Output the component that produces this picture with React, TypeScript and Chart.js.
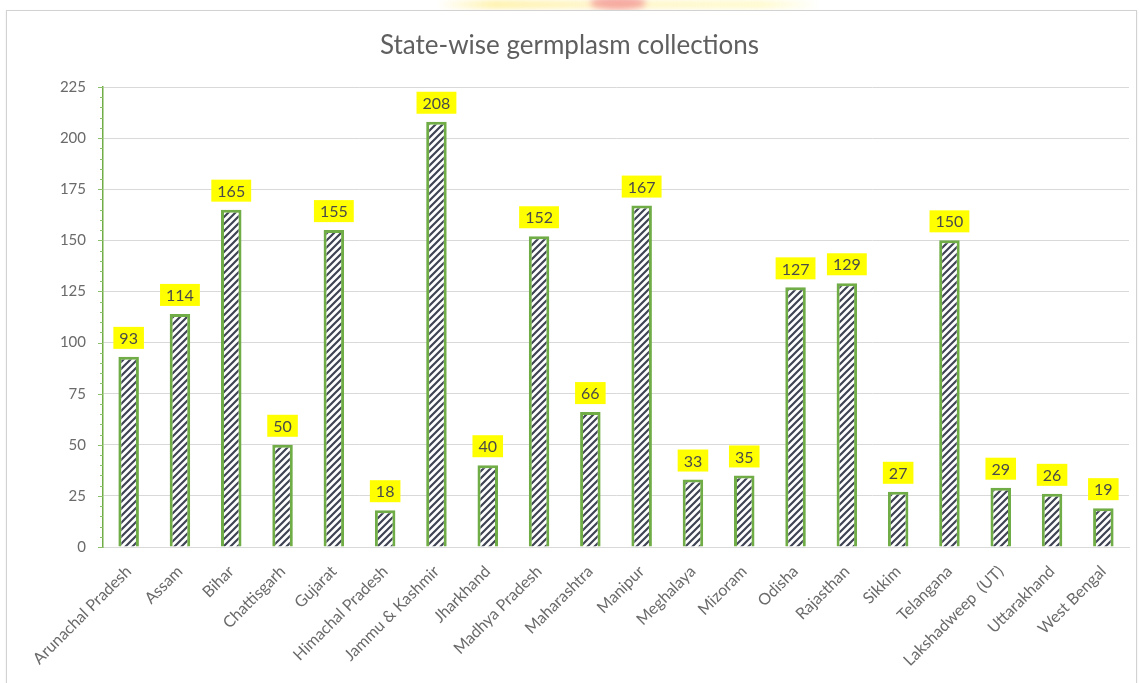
import React, { useEffect, useRef } from 'react';
import { Chart, registerables } from 'chart.js';

Chart.register(...registerables);

const states = [
  'Arunachal Pradesh', 'Assam', 'Bihar', 'Chattisgarh', 'Gujarat', 'Himachal Pradesh',
  'Jammu & Kashmir', 'Jharkhand', 'Madhya Pradesh', 'Maharashtra', 'Manipur', 'Meghalaya',
  'Mizoram', 'Odisha', 'Rajasthan', 'Sikkim', 'Telangana', 'Lakshadweep  (UT)', 'Uttarakhand',
  'West Bengal',
];
const collections = [93, 114, 165, 50, 155, 18, 208, 40, 152, 66, 167, 33, 35, 127, 129, 27, 150, 29, 26, 19];
const yMax = 225;
const yStep = 25;
const minorStep = 5;

const FONT = 'Lato, "DejaVu Sans", sans-serif';

function makeHatch(): CanvasPattern | string {
  const n = 7;
  const tile = document.createElement('canvas');
  tile.width = n;
  tile.height = n;
  const c = tile.getContext('2d');
  if (!c) return '#ffffff';
  c.fillStyle = '#ffffff';
  c.fillRect(0, 0, n, n);
  c.strokeStyle = '#3f4454';
  c.lineWidth = 2.2;
  c.beginPath();
  c.moveTo(-1, n + 1);
  c.lineTo(n + 1, -1);
  c.moveTo(-n - 1, n + 1);
  c.lineTo(n + 1, -n - 1);
  c.moveTo(-1, 2 * n + 1);
  c.lineTo(2 * n + 1, -1);
  c.stroke();
  return c.createPattern(tile, 'repeat') || '#ffffff';
}

// yellow value boxes above each bar
const valueBoxes = {
  id: 'valueBoxes',
  afterDatasetsDraw(chart: any) {
    const ctx = chart.ctx;
    const meta = chart.getDatasetMeta(0);
    ctx.save();
    ctx.font = `16px ${FONT}`;
    ctx.textAlign = 'center';
    ctx.textBaseline = 'middle';
    meta.data.forEach((bar: any, i: number) => {
      const txt = String(collections[i]);
      const w = ctx.measureText(txt).width + 12;
      const h = 22;
      const bottom = bar.y - 8;
      ctx.fillStyle = '#ffff00';
      ctx.fillRect(bar.x - w / 2, bottom - h, w, h);
      ctx.fillStyle = '#4a4a4a';
      ctx.fillText(txt, bar.x, bottom - h / 2 + 1);
    });
    ctx.restore();
  },
};

// green minor ticks on the value axis
const minorTicks = {
  id: 'minorTicks',
  afterDraw(chart: any) {
    const y = chart.scales.y;
    const ctx = chart.ctx;
    const x0 = chart.chartArea.left;
    ctx.save();
    ctx.strokeStyle = '#8cbf6a';
    ctx.lineWidth = 1;
    for (let v = 0; v <= yMax; v += minorStep) {
      const py = Math.round(y.getPixelForValue(v)) + 0.5;
      ctx.beginPath();
      ctx.moveTo(x0 - (v % yStep === 0 ? 5 : 3), py);
      ctx.lineTo(x0, py);
      ctx.stroke();
    }
    ctx.restore();
  },
};

export default function App() {
  const canvasRef = useRef<HTMLCanvasElement>(null);

  useEffect(() => {
    document.body.style.margin = '0';
    if (!canvasRef.current) return;
    const chart = new Chart(canvasRef.current, {
      type: 'bar',
      data: {
        labels: states,
        datasets: [
          {
            label: 'Collections',
            data: collections,
            backgroundColor: makeHatch() as any,
            borderColor: '#70ad47',
            borderWidth: 3,
            barPercentage: 0.4,
            categoryPercentage: 1,
          },
        ],
      },
      options: {
        animation: false,
        responsive: true,
        maintainAspectRatio: false,
        layout: { padding: { left: 10, right: 10, top: 0, bottom: 0 } },
        plugins: {
          legend: { display: false },
          tooltip: { enabled: false },
          title: {
            display: true,
            text: 'State-wise germplasm collections',
            color: '#5f5f5f',
            font: { family: FONT, size: 26, weight: 'normal' },
            padding: { top: 30, bottom: 25.8 },
          },
        },
        scales: {
          x: {
            grid: { display: false },
            border: { color: '#d9d9d9' },
            ticks: {
              color: '#6a6a6a',
              font: { family: FONT, size: 16 },
              minRotation: 45,
              maxRotation: 45,
              autoSkip: false,
              padding: 7,
            },
            afterFit: (s: any) => {
              s.height = 136;
            },
          },
          y: {
            min: 0,
            max: yMax,
            grid: { color: '#d9d9d9', drawTicks: false },
            border: { color: '#70ad47', width: 1.5 },
            ticks: {
              stepSize: yStep,
              color: '#6a6a6a',
              font: { family: FONT, size: 15 },
              padding: 17,
            },
            afterFit: (s: any) => {
              s.width = 93;
            },
          },
        },
      },
      plugins: [valueBoxes, minorTicks],
    });
    return () => chart.destroy();
  }, []);

  return (
    <div style={{ position: 'relative', width: 1139, height: 683, background: '#ffffff', overflow: 'hidden' }}>
      <div
        style={{
          position: 'absolute', left: 437, top: 0, width: 383, height: 9,
          background: 'linear-gradient(90deg, rgba(255,245,170,0) 0%, rgba(255,240,160,0.8) 15%, rgba(255,240,170,0.6) 40%, rgba(255,250,200,0.8) 85%, rgba(255,245,170,0) 100%)',
          filter: 'blur(2px)',
        }}
      />
      <div
        style={{
          position: 'absolute', left: 590, top: -4, width: 56, height: 14, borderRadius: '50%',
          background: 'rgba(240,120,130,0.6)', filter: 'blur(3px)',
        }}
      />
      <div
        style={{
          position: 'absolute', left: 6, top: 10, right: 2, bottom: -4,
          border: '1px solid #d2d2d2', boxShadow: '0 1px 2px rgba(0,0,0,0.08)', background: '#ffffff',
        }}
      />
      <div style={{ position: 'absolute', left: 0, top: 0, width: 1139, height: 683 }}>
        <canvas ref={canvasRef} />
      </div>
    </div>
  );
}
